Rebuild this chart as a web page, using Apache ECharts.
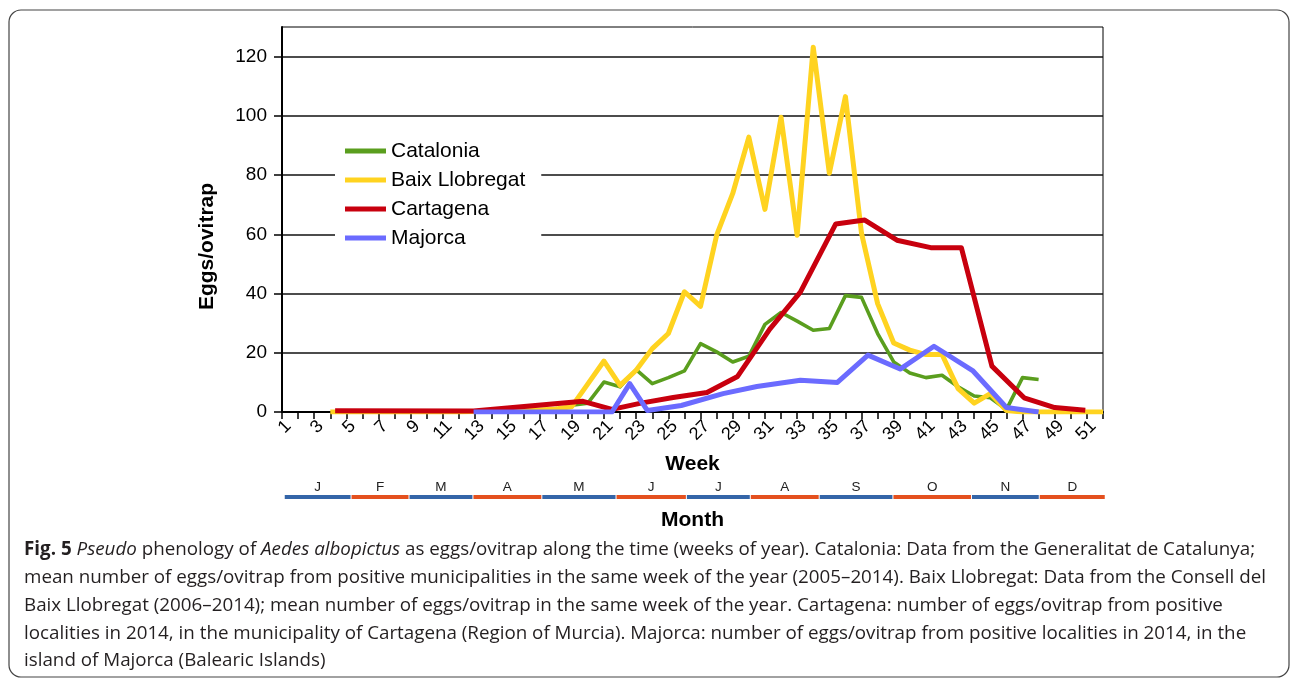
<!DOCTYPE html>
<html>
<head>
<meta charset="UTF-8">
<title>Pseudo phenology of Aedes albopictus</title>
<script src="https://cdn.jsdelivr.net/npm/echarts@6.0.0/dist/echarts.min.js"></script>
<style>
  html, body { margin: 0; padding: 0; background: #fff; }
  #chart { width: 1293px; height: 682px; }
</style>
</head>
<body>
<div id="chart"></div>
<script>
// Catalonia, weekly mean (2005-2014)
const catWeeks = [19, 20, 21, 22, 23, 24, 25, 26, 27, 28, 29, 30, 31, 32, 33, 34, 35, 36, 37, 38, 39, 40, 41, 42, 43, 44, 45, 46, 47, 48]
const catEggs = [2.3, 3.0, 10.1, 8.5, 14.3, 9.6, 11.6, 13.9, 23.1, 20.3, 16.9, 18.8, 29.6, 33.6, 30.7, 27.6, 28.2, 39.3, 38.7, 26.5, 16.9, 13.2, 11.6, 12.4, 8.5, 5.4, 4.8, 0.8, 11.6, 11.0]

// Baix Llobregat, weekly mean (2006-2014)
const baixWeeks = [4, 5, 6, 7, 8, 9, 10, 11, 12, 13, 14, 15, 16, 17, 18, 19, 20, 21, 22, 23, 24, 25, 26, 27, 28, 29, 30, 31, 32, 33, 34, 35, 36, 37, 38, 39, 40, 41, 42, 43, 44, 45, 46, 47, 48, 49, 50, 51, 52]
const baixEggs = [0, 0, 0, 0, 0, 0, 0, 0, 0, 0.2, 0.3, 0.4, 0.5, 0.7, 1.0, 1.8, 9.5, 17.2, 9.0, 14.1, 21.4, 26.5, 40.6, 35.7, 59.7, 73.8, 92.8, 68.4, 99.5, 59.7, 123.2, 80.6, 106.5, 60.3, 36.6, 23.3, 20.9, 19.4, 19.4, 7.9, 3.0, 6.2, 0.5, 0, 0, 0, 0, 0, 0]

// Cartagena 2014 (sampling dates, in weeks)
const cartWeeks = [4.3, 12.9, 19.7, 21.5, 23.3, 25.3, 27.4, 29.3, 31.3, 33.2, 35.4, 37.2, 39.2, 41.3, 43.2, 45.1, 47.1, 49.0, 50.9]
const cartEggs = [0.4, 0.3, 3.6, 0.9, 3.0, 4.9, 6.6, 12.0, 28.0, 40.5, 63.5, 64.8, 58.0, 55.5, 55.5, 15.5, 4.8, 1.5, 0.6]

// Majorca 2014 (sampling dates, in weeks)
const majWeeks = [12.9, 21.5, 22.6, 23.7, 25.8, 28.4, 30.5, 33.2, 35.5, 37.4, 39.4, 41.5, 43.9, 46.0, 48.0]
const majEggs = [0, 0, 9.6, 0.5, 2.2, 6.2, 8.6, 10.7, 10.0, 19.2, 14.5, 22.2, 14.0, 1.5, 0]

const yTicks = [0, 20, 40, 60, 80, 100, 120]

// month strip under the week axis (start / end in weeks)
const monthLabels = ['J', 'F', 'M', 'A', 'M', 'J', 'J', 'A', 'S', 'O', 'N', 'D']
const monthStart = [1.14, 5.29, 8.89, 12.86, 17.14, 21.75, 26.12, 30.09, 34.37, 38.95, 43.83, 48.04]
const monthEnd = [5.29, 8.89, 12.86, 17.14, 21.75, 26.12, 30.09, 34.37, 38.95, 43.83, 48.04, 52.14]

const pairs = (xs, ys) => xs.map((x, i) => [x, ys[i]])
const font = 'Liberation Sans, Arial, sans-serif'
const capFont = 'Open Sans, Noto Sans, sans-serif'
const capSize = 18.8

const lineSeries = (name, data, color, width) => ({
  name,
  type: 'line',
  data,
  symbol: 'none',
  color,
  lineStyle: { color, width, join: 'round', cap: 'butt' },
  animation: false
})

const chart = echarts.init(document.getElementById('chart'))
chart.setOption({
  backgroundColor: '#fff',
  animation: false,
  textStyle: { fontFamily: font },
  grid: [
    { left: 282, right: 190, top: 27, bottom: 270, show: true, borderColor: '#000', borderWidth: 1 },
    { left: 282, right: 190, top: 481, height: 16 }
  ],
  legend: {
    orient: 'vertical',
    left: 335,
    top: 134,
    padding: [6, 16, 6, 10],
    backgroundColor: '#fff',
    icon: 'rect',
    itemWidth: 41,
    itemHeight: 5,
    itemGap: 7,
    textStyle: { fontSize: 21, lineHeight: 22, color: '#000', fontFamily: font },
    data: ['Catalonia', 'Baix Llobregat', 'Cartagena', 'Majorca']
  },
  xAxis: [
    {
      gridIndex: 0,
      type: 'value',
      min: 1,
      max: 52,
      interval: 1,
      name: 'Week',
      nameLocation: 'middle',
      nameGap: 42,
      nameTextStyle: { fontSize: 21, fontWeight: 'bold', color: '#000' },
      axisLine: { lineStyle: { color: '#000', width: 2 } },
      axisTick: { length: 7, lineStyle: { color: '#000', width: 1.5 } },
      axisLabel: {
        rotate: 45,
        margin: 5,
        verticalAlign: 'top',
        fontSize: 18,
        color: '#000',
        formatter: v => (v % 2 === 1 ? String(v) : '')
      },
      splitLine: { show: false }
    },
    {
      gridIndex: 1,
      type: 'value',
      min: 1,
      max: 52,
      name: 'Month',
      nameLocation: 'middle',
      nameGap: 13,
      nameTextStyle: { fontSize: 21, fontWeight: 'bold', color: '#000' },
      axisLine: { show: false },
      axisTick: { show: false },
      axisLabel: { show: false },
      splitLine: { show: false }
    }
  ],
  yAxis: [
    {
      gridIndex: 0,
      type: 'value',
      min: 0,
      max: 130,
      name: 'Eggs/ovitrap',
      nameLocation: 'middle',
      nameGap: 64,
      nameTextStyle: { fontSize: 21, fontWeight: 'bold', color: '#000', padding: [0, 54, 0, 0] },
      axisLine: { show: true, lineStyle: { color: '#000', width: 2 } },
      axisTick: { show: true, length: 8, customValues: yTicks, lineStyle: { color: '#000', width: 1.5 } },
      axisLabel: { fontSize: 19, color: '#000', margin: 15, customValues: yTicks },
      splitLine: { show: true, lineStyle: { color: '#111', width: 1.6 } }
    },
    {
      gridIndex: 1,
      type: 'value',
      min: 0,
      max: 1,
      show: false
    }
  ],
  series: [
    lineSeries('Catalonia', pairs(catWeeks, catEggs), '#5a9e1e', 3.6),
    lineSeries('Baix Llobregat', pairs(baixWeeks, baixEggs), '#ffd320', 5),
    lineSeries('Cartagena', pairs(cartWeeks, cartEggs), '#c8000e', 5),
    lineSeries('Majorca', pairs(majWeeks, majEggs), '#6b6bff', 5),
    {
      type: 'custom',
      xAxisIndex: 1,
      yAxisIndex: 1,
      silent: true,
      animation: false,
      data: pairs(monthStart, monthEnd),
      renderItem (params, api) {
        const i = params.dataIndex
        const a = api.coord([api.value(0), 0])
        const b = api.coord([api.value(1), 0])
        return {
          type: 'group',
          children: [
            {
              type: 'rect',
              shape: { x: a[0] + 0.5, y: a[1] - 2, width: b[0] - a[0] - 1, height: 4 },
              style: { fill: i % 2 ? '#e4501e' : '#3465a8' }
            },
            {
              type: 'text',
              style: {
                text: monthLabels[i],
                x: (a[0] + b[0]) / 2,
                y: a[1] - 10,
                align: 'center',
                verticalAlign: 'middle',
                fontSize: 13.5,
                fontFamily: font,
                fill: '#222'
              }
            }
          ]
        }
      }
    }
  ],
  graphic: [
    {
      type: 'rect',
      shape: { x: 9, y: 10, width: 1280, height: 667, r: 12 },
      style: { fill: 'none', stroke: '#444', lineWidth: 1.2 },
      silent: true
    },
    {
      type: 'text',
      left: 24,
      top: 536,
      silent: true,
      style: {
        text: [
          '{b|Fig. 5} {i|Pseudo} phenology of {i|Aedes albopictus} as eggs/ovitrap along the time (weeks of year). Catalonia: Data from the Generalitat de Catalunya;',
          'mean number of eggs/ovitrap from positive municipalities in the same week of the year (2005–2014). Baix Llobregat: Data from the Consell del',
          'Baix Llobregat (2006–2014); mean number of eggs/ovitrap in the same week of the year. Cartagena: number of eggs/ovitrap from positive',
          'localities in 2014, in the municipality of Cartagena (Region of Murcia). Majorca: number of eggs/ovitrap from positive localities in 2014, in the',
          'island of Majorca (Balearic Islands)'
        ].join('\n'),
        fontSize: capSize,
        fontFamily: capFont,
        lineHeight: 27.8,
        fill: '#231f20',
        rich: {
          b: { fontSize: capSize, fontFamily: capFont, fontWeight: 'bold', lineHeight: 27.8, fill: '#231f20' },
          i: { fontSize: capSize, fontFamily: capFont, fontStyle: 'italic', lineHeight: 27.8, fill: '#231f20' }
        }
      }
    }
  ]
})
</script>
</body>
</html>
